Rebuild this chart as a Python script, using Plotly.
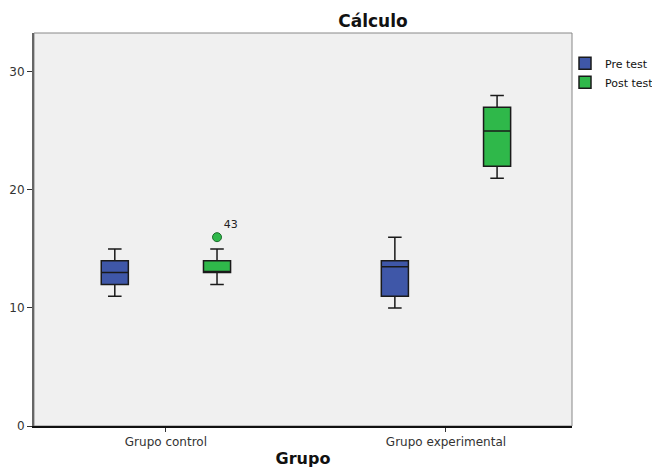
import plotly.graph_objects as go

# ---- data ----
groups = ["Grupo control", "Grupo experimental"]
series = ["Pre test", "Post test"]

pre_lower = [11, 10]
pre_q1 = [12, 11]
pre_median = [13, 13.5]
pre_q3 = [14, 14]
pre_upper = [15, 16]

post_lower = [12, 21]
post_q1 = [13, 22]
post_median = [13, 25]
post_q3 = [14, 27]
post_upper = [15, 28]

outlier_group = ["Grupo control"]
outlier_value = [16]
outlier_label = ["43"]

y_ticks = [0, 10, 20, 30]

# ---- style ----
BLUE = "#3f57a8"
GREEN = "#2fb84a"
FONT = "DejaVu Sans, Arial, sans-serif"

fig = go.Figure()

fig.add_trace(go.Box(
    x=groups, q1=pre_q1, median=pre_median, q3=pre_q3,
    lowerfence=pre_lower, upperfence=pre_upper,
    name=series[0], fillcolor=BLUE,
    line=dict(color="#1a1a1a", width=1.5), whiskerwidth=0.5,
    boxpoints=False, offsetgroup="pre",
))
fig.add_trace(go.Box(
    x=groups, q1=post_q1, median=post_median, q3=post_q3,
    lowerfence=post_lower, upperfence=post_upper,
    name=series[1], fillcolor=GREEN,
    line=dict(color="#1a1a1a", width=1.5), whiskerwidth=0.5,
    boxpoints=False, offsetgroup="post",
))

# outliers (grouped scatter so they align with the boxes)
fig.add_trace(go.Scatter(
    x=outlier_group, y=[None], mode="markers", offsetgroup="pre",
    showlegend=False, hoverinfo="skip",
))
fig.add_trace(go.Scatter(
    x=outlier_group, y=outlier_value, mode="markers+text",
    text=outlier_label, textposition="top right",
    textfont=dict(family=FONT, size=11, color="#222"),
    marker=dict(color=GREEN, size=9, line=dict(color="#1d6b2c", width=1)),
    offsetgroup="post", showlegend=False,
))

fig.update_layout(
    width=652, height=468,
    margin=dict(l=34, r=80, t=33, b=42, autoexpand=False),
    paper_bgcolor="white", plot_bgcolor="#f0f0f0",
    font=dict(family=FONT, size=12, color="#333"),
    boxmode="group", boxgap=0.27, boxgroupgap=0.735,
    scattermode="group", scattergap=0.27,
    title=dict(text="<b>Cálculo</b>", x=0.63, xref="paper", xanchor="center",
               y=1, yref="paper", yanchor="bottom", pad=dict(b=6),
               font=dict(family=FONT, size=17, color="#111")),
    legend=dict(x=0.987, y=0.96, xanchor="left", yanchor="top",
                font=dict(family=FONT, size=11, color="#111"),
                bgcolor="rgba(0,0,0,0)", tracegroupgap=0,
                itemwidth=30),
    xaxis=dict(
        type="category", range=[-0.471, 1.45],
        showline=True, linecolor="#111", linewidth=1.5,
        ticks="outside", ticklen=4, tickcolor="#333",
        showgrid=False, zeroline=False,
        title=dict(text="<b>Grupo</b>", standoff=6,
                   font=dict(family=FONT, size=16, color="#111")),
    ),
    yaxis=dict(
        range=[0, 33.3], tickvals=y_ticks,
        showline=True, linecolor="#666", linewidth=2,
        ticks="outside", ticklen=5, tickcolor="#333",
        showgrid=False, zeroline=False,
    ),
    shapes=[dict(type="rect", xref="paper", yref="paper", x0=0, x1=1, y0=0, y1=1,
                 line=dict(color="#888", width=1), layer="below")],
)

fig.write_html("out.html", config={"displayModeBar": False},
               post_script="document.body.style.margin='0';")
